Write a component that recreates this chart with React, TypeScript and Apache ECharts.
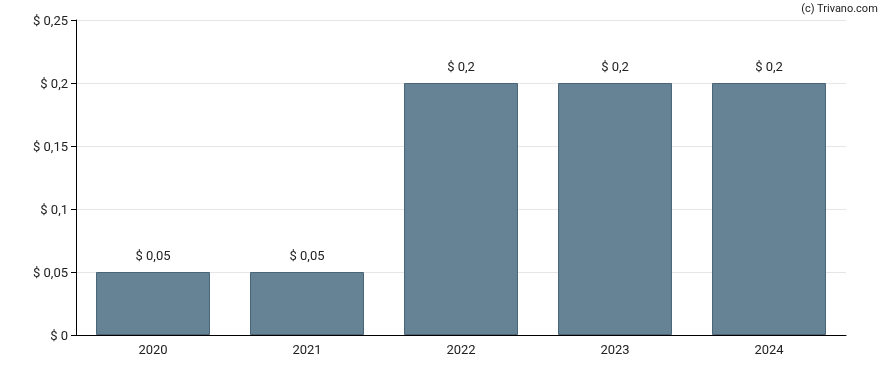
import React, { useEffect, useRef } from "react";
import * as echarts from "echarts";

const categories = ["2020", "2021", "2022", "2023", "2024"];
const values = [0.05, 0.05, 0.2, 0.2, 0.2];
const yTicks = [0, 0.05, 0.1, 0.15, 0.2, 0.25];

const fmt = (v: number) => "$ " + String(v).replace(".", ",");

export default function App() {
  const ref = useRef<HTMLDivElement>(null);
  useEffect(() => {
    if (!ref.current) return;
    const chart = echarts.init(ref.current, undefined, { renderer: "svg" });
    chart.setOption({
      animation: false,
      textStyle: { fontFamily: "Roboto, Arial, sans-serif" },
      grid: { left: 76, right: 42, top: 20, bottom: 35 },
      graphic: [
        {
          type: "text",
          right: 10,
          top: 3,
          style: { text: "(c) Trivano.com", fontSize: 11, fill: "#222", fontFamily: "Roboto, Arial, sans-serif" },
        },
      ],
      xAxis: {
        type: "category",
        data: categories,
        axisLine: { lineStyle: { color: "#000", width: 1 } },
        axisTick: { alignWithLabel: true, length: 4, lineStyle: { color: "#000" } },
        axisLabel: { color: "#222", fontSize: 13, margin: 8 },
      },
      yAxis: {
        type: "value",
        min: yTicks[0],
        max: yTicks[yTicks.length - 1],
        interval: 0.05,
        axisLine: { show: true, lineStyle: { color: "#000", width: 1 } },
        axisTick: { show: true, length: 5, lineStyle: { color: "#000" } },
        axisLabel: { color: "#222", fontSize: 13, margin: 8, formatter: (v: number) => fmt(Math.round(v * 100) / 100) },
        splitLine: { lineStyle: { color: "#e6e6e6", width: 1 } },
      },
      series: [
        {
          type: "bar",
          data: values,
          barWidth: "74%",
          itemStyle: { color: "#668396", borderColor: "#4a6578", borderWidth: 1 },
          label: {
            show: true,
            position: "top",
            distance: 10,
            color: "#222",
            fontSize: 13,
            formatter: (p: any) => fmt(p.value),
          },
        },
      ],
    });
    return () => chart.dispose();
  }, []);
  return <div ref={ref} style={{ position: "fixed", left: 0, top: 0, width: 888, height: 370 }} />;
}
